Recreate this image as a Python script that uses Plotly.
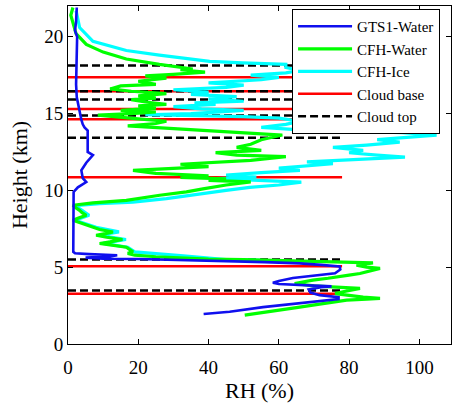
import plotly.graph_objects as go

# GTS1-Water profile
gts_rh = [38.6, 46, 55.5, 65.9, 73.6, 77, 77, 71.6, 69, 68.5, 72, 75, 70, 66, 60, 58.3, 60, 64, 70, 76, 77.5, 77.3,
          72, 66, 56, 45, 35, 20, 10, 5, 12, 14, 6, 2, 1.5, 1.5, 1.6, 2.8, 5.2, 4.2, 3.8, 5.2, 7.1, 5.6, 5.6, 4.7,
          4.2, 3.8, 3.1, 2.5, 2.3, 2.5, 2.6, 2.0, 2.3, 2.5]
gts_h = [1.95, 2.1, 2.4, 2.64, 2.86, 2.92, 3.05, 3.18, 3.35, 3.55, 3.7, 3.75, 3.8, 3.85, 3.9, 3.98, 4.1, 4.3, 4.45,
         4.6, 4.85, 5.05, 5.15, 5.25, 5.33, 5.4, 5.48, 5.53, 5.55, 5.62, 5.7, 5.78, 5.85, 5.9, 6.0, 8.0, 9.9, 10.2,
         10.54, 10.8, 11.3, 11.8, 12.3, 12.5, 13.9, 14.1, 14.3, 14.6, 15.4, 16.06, 16.9, 18.1, 20.0, 20.4, 21.0, 21.9]

# CFH-Water profile
cfhw_rh = [50.3, 55, 60.3, 65, 69.7, 75, 79.3, 85, 88.8, 84, 80.2, 76, 78.3, 83.1, 75, 70, 64.5, 67, 69.7, 74, 77.4,
           80, 83.1, 86, 88.8, 85, 82.1, 86.8, 77.4, 70, 60, 50, 40, 31, 25, 19, 17, 18.5, 16.6, 12, 9, 12, 15.5, 11,
           8, 11, 12.8, 9, 7.1, 4, 1.4, 3, 5.2, 4, 3.3, 2, 1.4, 7.1, 16.6, 26.1, 33.7, 38.4, 45, 52, 40, 45, 32, 40,
           25, 18.5, 30, 40, 32, 45, 52, 58, 62, 48, 42, 55, 48, 52, 55, 61, 50, 42, 35, 26, 17, 25, 28, 20, 10, 8.5,
           18, 25, 15, 25, 20, 28, 22, 18, 25, 20, 28, 18, 12, 15, 25, 20, 28, 22, 30, 39, 32, 35.5, 26, 16.6, 10,
           5.2, 2.3, 1.4, 0.8, 1.4]
cfhw_h = [1.88, 2.05, 2.21, 2.37, 2.53, 2.7, 2.86, 2.92, 2.97, 3.05, 3.18, 3.28, 3.4, 3.62, 3.72, 3.78, 3.94, 4.05,
          4.16, 4.28, 4.37, 4.48, 4.59, 4.75, 4.92, 5.0, 5.13, 5.28, 5.34, 5.4, 5.45, 5.49, 5.53, 5.6, 5.68, 5.78, 5.9,
          6.0, 6.3, 6.45, 6.54, 6.65, 6.8, 6.95, 7.08, 7.2, 7.29, 7.45, 7.6, 7.85, 8.05, 8.2, 8.38, 8.55, 8.7, 8.9,
          9.03, 9.18, 9.35, 9.68, 9.9, 10.1, 10.35, 10.55, 10.65, 10.75, 10.85, 10.95, 11.1, 11.3, 11.45, 11.55, 11.7,
          11.85, 11.95, 12.1, 12.2, 12.3, 12.45, 12.6, 12.8, 13.0, 13.3, 13.6, 13.75, 13.85, 13.95, 14.05, 14.2, 14.35,
          14.5, 14.65, 14.85, 14.9, 15.0, 15.1, 15.2, 15.35, 15.5, 15.6, 15.75, 15.9, 16.0, 16.15, 16.3, 16.45, 16.6,
          16.8, 16.9, 17.1, 17.3, 17.45, 17.55, 17.7, 17.85, 17.9, 18.2, 18.55, 19.0, 19.5, 20.2, 21.0, 21.4, 21.9]

# CFH-Ice profile
cfhi_rh = [55, 45, 32, 19, 17, 10, 16.5, 9, 14.5, 8, 2, 6, 4, 2, 9, 18.5, 28, 37.5, 45, 51.7, 60, 66.4, 55, 42.2,
           53.6, 45, 55, 66, 60, 70, 75.4, 68, 80, 95.9, 88, 80, 84, 75.4, 85, 94.4, 88, 97, 104.9, 95, 80, 65, 55,
           62, 66, 60, 50, 30, 22, 35, 45, 50, 38, 30, 42, 36, 50, 40, 48, 35, 40, 30, 45, 50, 40, 55, 60, 52, 62,
           66, 62, 62, 49.7, 40.3, 26, 16.6, 7.1, 3.3, 2.3]
cfhi_h = [5.45, 5.5, 5.75, 6.0, 6.3, 6.55, 6.8, 7.08, 7.3, 7.6, 8.05, 8.38, 8.7, 9.0, 9.13, 9.24, 9.46, 9.78, 10.0,
          10.2, 10.35, 10.54, 10.65, 10.76, 10.87, 11.0, 11.15, 11.3, 11.45, 11.6, 11.73, 11.85, 12.0, 12.16, 12.3,
          12.45, 12.6, 12.8, 12.95, 13.14, 13.3, 13.45, 13.6, 13.75, 13.85, 13.95, 14.1, 14.3, 14.5, 14.7, 14.8,
          14.88, 14.92, 15.0, 15.1, 15.2, 15.3, 15.45, 15.6, 15.7, 15.8, 15.95, 16.1, 16.25, 16.4, 16.55, 16.7,
          16.85, 17.0, 17.2, 17.35, 17.5, 17.65, 17.8, 18.0, 18.2, 18.3, 18.4, 18.8, 19.1, 19.7, 20.6, 21.7]

# Cloud boundaries (km) and line extent (RH %)
cloud_base = [3.27, 5.06, 10.86, 14.63, 15.30, 16.45, 17.36]
cloud_top = [3.49, 5.50, 13.42, 14.87, 15.91, 16.45, 18.12]
line_x = [0, 78]

fig = go.Figure()

for i, h in enumerate(cloud_base):
    fig.add_trace(go.Scatter(x=line_x, y=[h, h], mode="lines", name="Cloud base",
                             line=dict(color="#ff0000", width=2.5), legendgroup="base",
                             showlegend=(i == 0), legendrank=4))
for i, h in enumerate(cloud_top):
    fig.add_trace(go.Scatter(x=line_x, y=[h, h], mode="lines", name="Cloud top",
                             line=dict(color="#000000", width=2.5, dash="8px,4px"), legendgroup="top",
                             showlegend=(i == 0), legendrank=5))

fig.add_trace(go.Scatter(x=cfhi_rh, y=cfhi_h, mode="lines", name="CFH-Ice",
                         line=dict(color="#00ffff", width=3.2), legendrank=3))
fig.add_trace(go.Scatter(x=cfhw_rh, y=cfhw_h, mode="lines", name="CFH-Water",
                         line=dict(color="#00ff00", width=3.2), legendrank=2))
fig.add_trace(go.Scatter(x=gts_rh, y=gts_h, mode="lines", name="GTS1-Water",
                         line=dict(color="#1010ee", width=2.6), legendrank=1))

serif = "Liberation Serif"
axis_font = dict(family=serif, size=19, color="black")
fig.update_layout(
    width=452, height=406,
    margin=dict(l=68, r=1, t=6, b=62, autoexpand=False),
    paper_bgcolor="white", plot_bgcolor="white",
    font=dict(family=serif, color="black"),
    showlegend=True,
    legend=dict(x=0.585, y=0.991, xanchor="left", yanchor="top",
                bgcolor="white", bordercolor="black", borderwidth=1,
                font=dict(family=serif, size=15, color="black"),
                itemwidth=54, traceorder="normal"),
    xaxis=dict(range=[0, 109], tickvals=[0, 20, 40, 60, 80, 100], ticks="inside", ticklen=5,
               tickcolor="black", showline=True, linecolor="black", linewidth=1, mirror="allticks",
               showgrid=False, zeroline=False, tickfont=axis_font, automargin=False, ticklabelstandoff=6,
               title=dict(text="RH (%)", font=dict(family=serif, size=22, color="black"), standoff=2)),
    yaxis=dict(range=[0, 22], tickvals=[0, 5, 10, 15, 20], ticks="inside", ticklen=5,
               tickcolor="black", showline=True, linecolor="black", linewidth=1, mirror="allticks",
               showgrid=False, zeroline=False, tickfont=axis_font, automargin=False,
               title=dict(text="Height (km)", font=dict(family=serif, size=22, color="black"), standoff=10)),
)

fig.write_html("out.html", config={"displayModeBar": False},
               post_script="document.body.style.margin='0';document.body.style.overflow='hidden';")
